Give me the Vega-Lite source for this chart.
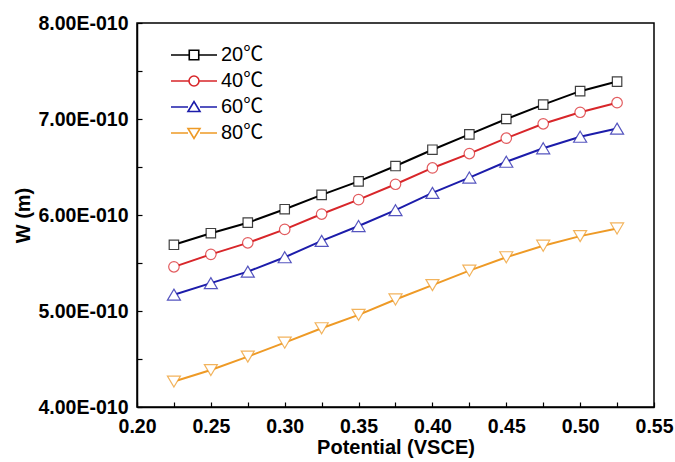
{
  "$schema": "https://vega.github.io/schema/vega-lite/v6.json",
  "autosize": "none",
  "width": 517,
  "height": 384,
  "padding": {"left": 137, "top": 23, "right": 21, "bottom": 55},
  "background": "white",
  "config": {
    "view": {"stroke": "black", "strokeWidth": 1.5},
    "font": "Liberation Sans",
    "axis": {
      "domainColor": "black",
      "domainWidth": 1.5,
      "tickColor": "black",
      "tickWidth": 1.2,
      "grid": false,
      "labelFont": "Liberation Sans",
      "labelFontWeight": "bold",
      "labelFontSize": 19.5,
      "labelColor": "black",
      "titleFont": "Liberation Sans",
      "titleFontWeight": "bold",
      "titleFontSize": 20,
      "titleColor": "black"
    }
  },
  "data": {
    "values": [
      {"V": 0.225, "W": 5.69e-10, "T": "20℃"},
      {"V": 0.25, "W": 5.81e-10, "T": "20℃"},
      {"V": 0.275, "W": 5.92e-10, "T": "20℃"},
      {"V": 0.3, "W": 6.06e-10, "T": "20℃"},
      {"V": 0.325, "W": 6.21e-10, "T": "20℃"},
      {"V": 0.35, "W": 6.35e-10, "T": "20℃"},
      {"V": 0.375, "W": 6.51e-10, "T": "20℃"},
      {"V": 0.4, "W": 6.68e-10, "T": "20℃"},
      {"V": 0.425, "W": 6.84e-10, "T": "20℃"},
      {"V": 0.45, "W": 7.0e-10, "T": "20℃"},
      {"V": 0.475, "W": 7.15e-10, "T": "20℃"},
      {"V": 0.5, "W": 7.29e-10, "T": "20℃"},
      {"V": 0.525, "W": 7.39e-10, "T": "20℃"},
      {"V": 0.225, "W": 5.46e-10, "T": "40℃"},
      {"V": 0.25, "W": 5.59e-10, "T": "40℃"},
      {"V": 0.275, "W": 5.71e-10, "T": "40℃"},
      {"V": 0.3, "W": 5.85e-10, "T": "40℃"},
      {"V": 0.325, "W": 6.01e-10, "T": "40℃"},
      {"V": 0.35, "W": 6.16e-10, "T": "40℃"},
      {"V": 0.375, "W": 6.32e-10, "T": "40℃"},
      {"V": 0.4, "W": 6.49e-10, "T": "40℃"},
      {"V": 0.425, "W": 6.64e-10, "T": "40℃"},
      {"V": 0.45, "W": 6.8e-10, "T": "40℃"},
      {"V": 0.475, "W": 6.95e-10, "T": "40℃"},
      {"V": 0.5, "W": 7.07e-10, "T": "40℃"},
      {"V": 0.525, "W": 7.17e-10, "T": "40℃"},
      {"V": 0.225, "W": 5.17e-10, "T": "60℃"},
      {"V": 0.25, "W": 5.29e-10, "T": "60℃"},
      {"V": 0.275, "W": 5.41e-10, "T": "60℃"},
      {"V": 0.3, "W": 5.56e-10, "T": "60℃"},
      {"V": 0.325, "W": 5.73e-10, "T": "60℃"},
      {"V": 0.35, "W": 5.885e-10, "T": "60℃"},
      {"V": 0.375, "W": 6.05e-10, "T": "60℃"},
      {"V": 0.4, "W": 6.23e-10, "T": "60℃"},
      {"V": 0.425, "W": 6.39e-10, "T": "60℃"},
      {"V": 0.45, "W": 6.555e-10, "T": "60℃"},
      {"V": 0.475, "W": 6.695e-10, "T": "60℃"},
      {"V": 0.5, "W": 6.815e-10, "T": "60℃"},
      {"V": 0.525, "W": 6.9e-10, "T": "60℃"},
      {"V": 0.225, "W": 4.265e-10, "T": "80℃"},
      {"V": 0.25, "W": 4.385e-10, "T": "80℃"},
      {"V": 0.275, "W": 4.525e-10, "T": "80℃"},
      {"V": 0.3, "W": 4.67e-10, "T": "80℃"},
      {"V": 0.325, "W": 4.82e-10, "T": "80℃"},
      {"V": 0.35, "W": 4.96e-10, "T": "80℃"},
      {"V": 0.375, "W": 5.12e-10, "T": "80℃"},
      {"V": 0.4, "W": 5.27e-10, "T": "80℃"},
      {"V": 0.425, "W": 5.42e-10, "T": "80℃"},
      {"V": 0.45, "W": 5.56e-10, "T": "80℃"},
      {"V": 0.475, "W": 5.68e-10, "T": "80℃"},
      {"V": 0.5, "W": 5.78e-10, "T": "80℃"},
      {"V": 0.525, "W": 5.86e-10, "T": "80℃"}
    ]
  },
  "encoding": {
    "x": {
      "field": "V",
      "type": "quantitative",
      "scale": {"domain": [0.2, 0.55], "nice": false, "zero": false},
      "axis": {
        "title": "Potential (VSCE)",
        "values": [0.2, 0.225, 0.25, 0.275, 0.3, 0.325, 0.35, 0.375, 0.4, 0.425, 0.45, 0.475, 0.5, 0.525, 0.55],
        "labelExpr": "round(datum.value*40) % 2 == 0 ? format(datum.value, '.2f') : ''",
        "tickSize": -5,
        "labelPadding": 15,
        "titlePadding": 2,
        "labelFlush": false,
        "labelOverlap": false
      }
    },
    "y": {
      "field": "W",
      "type": "quantitative",
      "scale": {"domain": [4e-10, 8e-10], "nice": false, "zero": false},
      "axis": {
        "title": "W (m)",
        "values": [4e-10, 4.5e-10, 5e-10, 5.5e-10, 6e-10, 6.5e-10, 7e-10, 7.5e-10, 8e-10],
        "labelExpr": "round(datum.value*2e10) % 2 == 0 ? replace(format(datum.value, '.2e'), 'e-', 'E-0') : ''",
        "tickSize": -5,
        "labelPadding": 14,
        "titlePadding": 5,
        "labelFlush": false,
        "labelOverlap": false
      }
    }
  },
  "layer": [
    {
      "mark": {
        "type": "line",
        "strokeWidth": 2,
        "point": {"filled": false, "fill": "white", "size": 110, "strokeWidth": 1.2, "opacity": 1, "strokeOpacity": 0.75}
      },
      "encoding": {
        "color": {
          "field": "T",
          "type": "nominal",
          "scale": {"domain": ["20℃", "40℃", "60℃", "80℃"], "range": ["#000000", "#d8262a", "#1c1caa", "#ee9a26"]},
          "legend": null
        },
        "shape": {
          "field": "T",
          "type": "nominal",
          "scale": {"domain": ["20℃", "40℃", "60℃", "80℃"], "range": ["M-0.9,-0.9H0.9V0.9H-0.9Z", "circle", "M0,-1.05L1.24,1.05H-1.24Z", "M0,1.05L1.24,-1.05H-1.24Z"]},
          "legend": null
        }
      }
    },
    {
      "mark": {"type": "point", "filled": false, "opacity": 0},
      "encoding": {
        "color": {
          "field": "T",
          "type": "nominal",
          "scale": {"domain": ["20℃", "40℃", "60℃", "80℃"], "range": ["#000000", "#d8262a", "#1c1caa", "#ee9a26"]},
          "legend": {
            "title": null,
            "orient": "none",
            "legendX": 47,
            "legendY": 22,
            "padding": 0,
            "symbolSize": 100,
            "symbolOpacity": 1,
            "symbolStrokeWidth": 1.6,
            "labelFont": "Liberation Sans, Noto Sans CJK SC",
            "labelFontSize": 20,
            "labelColor": "black",
            "labelOffset": 17,
            "rowPadding": 6
          }
        },
        "shape": {
          "field": "T",
          "type": "nominal",
          "scale": {"domain": ["20℃", "40℃", "60℃", "80℃"], "range": ["M-4.6,0H-0.95M0.95,0H4.6M-0.95,-0.95H0.95V0.95H-0.95Z", "M-4.6,0H-1M1,0H4.6M-1,0A1,1,0,1,0,1,0A1,1,0,1,0,-1,0Z", "M-4.6,0H-1.2M1.2,0H4.6M-1.2,0.9L0,-1.1L1.2,0.9Z", "M-4.6,0H-1.2M1.2,0H4.6M-1.2,-0.9L0,1.1L1.2,-0.9Z"]},
          "legend": {
            "title": null,
            "orient": "none",
            "legendX": 47,
            "legendY": 22,
            "padding": 0,
            "symbolSize": 100,
            "symbolOpacity": 1,
            "symbolStrokeWidth": 1.6,
            "labelFont": "Liberation Sans, Noto Sans CJK SC",
            "labelFontSize": 20,
            "labelColor": "black",
            "labelOffset": 17,
            "rowPadding": 6
          }
        }
      }
    }
  ],
  "resolve": {
    "scale": {"shape": "independent", "color": "independent"},
    "legend": {"shape": "independent", "color": "independent"}
  }
}
